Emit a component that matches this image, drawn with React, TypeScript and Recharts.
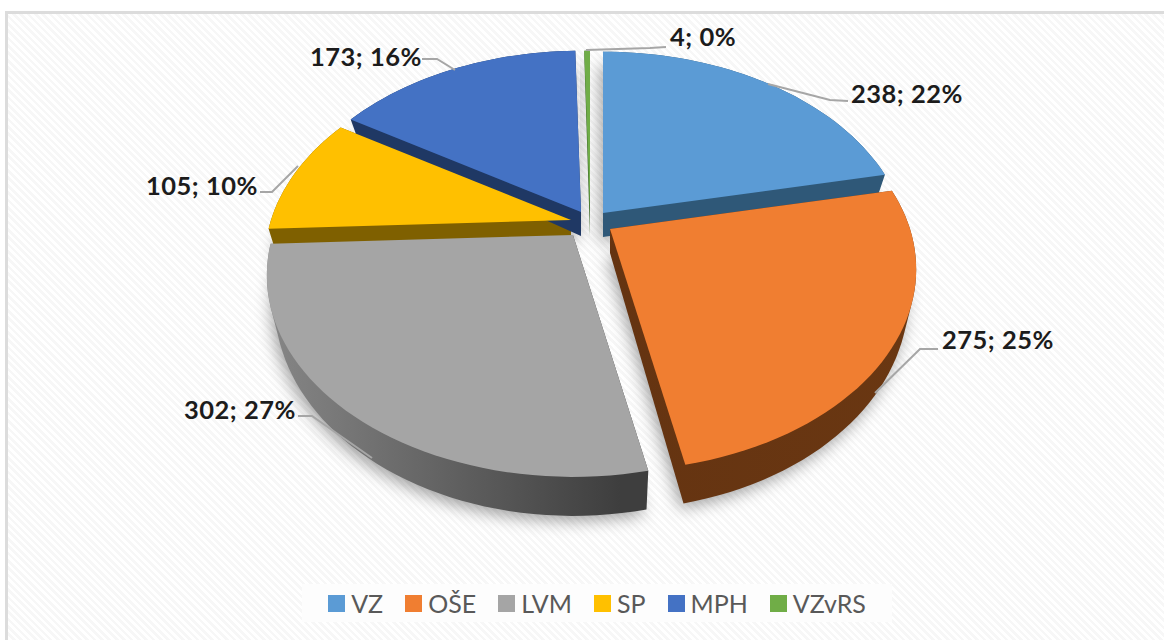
import { PieChart, Pie, Legend } from 'recharts'

const categories = ['VZ', 'OŠE', 'LVM', 'SP', 'MPH', 'VZvRS']
const counts = [238, 275, 302, 105, 173, 4]
const percentLabels = ['22%', '25%', '27%', '10%', '16%', '0%']

const topColors = ['#5b9bd5', '#f07e31', '#a5a5a5', '#ffc000', '#4472c4', '#70ad47']
const wallEdges = [
  ['#2f5878', '#2f5878'],
  ['#5f3010', '#6a3712'],
  ['#868686', '#3e3e3e'],
  ['#7f6000', '#7f6000'],
  ['#1f3864', '#1f3864'],
  ['#3f6b2a', '#3f6b2a'],
]

// where each exploded slice's tip sits relative to the pie centre
const explode = [[13, -17], [20, -1], [-17, 5], [-19, -10], [-9, -18], [0, -18]]

const CX = 590
const CY = 230
const RADIUS = 300
const SQUASH = 0.645
const PERSPECTIVE = 0.2

const tableData = categories.map((name, i) => ({ name, value: counts[i] }))

const labelLayout = [
  { x: 851, y: 103, line: '848,101 830,100 768,84' },
  { x: 942, y: 349, line: '938,349 920,349 875,393' },
  { x: 184, y: 419, line: '298,416 312,416 372,458' },
  { x: 146, y: 195, line: '260,192 272,192 298,166' },
  { x: 310, y: 66, line: '422,59 437,59 455,70' },
  { x: 670, y: 46, line: '666,47 650,48 586,50' },
]

type Pt = [number, number]

function slicePoints(props: any) {
  const i = categories.indexOf(props.name ?? props.payload?.name)
  const ox = props.cx + explode[i][0]
  const oy = props.cy + explode[i][1]
  const r = props.outerRadius
  const steps = Math.max(2, Math.ceil(Math.abs(props.endAngle - props.startAngle) / 2))
  const rim: Pt[] = []
  const low: Pt[] = []
  for (let s = 0; s <= steps; s++) {
    const a = ((props.startAngle + ((props.endAngle - props.startAngle) * s) / steps) * Math.PI) / 180
    const u = Math.cos(a)
    const v = -Math.sin(a)
    const d = 1 - PERSPECTIVE * v
    const x = ox + (r * u) / d
    const y = oy + (r * SQUASH * v) / d
    rim.push([x, y])
    low.push([ox + (x - ox) * 0.975, y + 24 + 15 * v])
  }
  return { i, apex: [ox, oy] as Pt, apexLow: [ox, oy + 24] as Pt, rim, low }
}

function poly(pts: Pt[]) {
  // keep every piece wound the same way so overlapping pieces add up
  let area = 0
  pts.forEach((p, k) => {
    const q = pts[(k + 1) % pts.length]
    area += p[0] * q[1] - q[0] * p[1]
  })
  const ordered = area < 0 ? [...pts].reverse() : pts
  return 'M' + ordered.map((p) => `${p[0].toFixed(1)},${p[1].toFixed(1)}`).join('L') + 'Z'
}

function ShadowSlice(props: any) {
  const { apexLow, low } = slicePoints(props)
  return (
    <path
      d={poly([apexLow, ...low])}
      transform="translate(-3,5)"
      fill="#000"
      fillOpacity={0.36}
      filter="url(#pieShadow)"
    />
  )
}

function WallSlice(props: any) {
  const { i, apex, apexLow, rim, low } = slicePoints(props)
  let d = poly([apexLow, ...low])
  d += poly([apex, rim[0], low[0], apexLow])
  d += poly([apex, rim[rim.length - 1], low[low.length - 1], apexLow])
  for (let k = 0; k < rim.length - 1; k++) {
    d += poly([rim[k], rim[k + 1], low[k + 1], low[k]])
  }
  return <path d={d} fill={`url(#wall${i})`} fillRule="nonzero" />
}

function TopSlice(props: any) {
  const { i, apex, rim } = slicePoints(props)
  return <path d={poly([apex, ...rim])} fill={topColors[i]} />
}

function renderLabel(props: any) {
  const i = props.index
  const spot = labelLayout[i]
  return (
    <g key={categories[i]}>
      <polyline points={spot.line} fill="none" stroke="#a6a6a6" strokeWidth={2} />
      <text
        x={spot.x}
        y={spot.y}
        textAnchor="start"
        fontSize={25.5}
        letterSpacing={0.5}
        fontWeight={700}
        fill="#1c1c1c"
        fontFamily="Lato"
      >
        {`${counts[i]}; ${percentLabels[i]}`}
      </text>
    </g>
  )
}

function LegendRow() {
  return (
    <div style={{ display: 'flex', gap: 22, alignItems: 'center', justifyContent: 'center', height: 38, background: '#fdfdfd' }}>
      {categories.map((c, i) => (
        <div key={c} style={{ display: 'flex', alignItems: 'center', gap: 6 }}>
          <span style={{ width: 17, height: 17, background: topColors[i], display: 'inline-block' }} />
          <span style={{ fontFamily: 'Lato', fontSize: 25, color: '#595959', lineHeight: '38px' }}>{c}</span>
        </div>
      ))}
    </div>
  )
}

export default function App() {
  return (
    <div
      style={{
        position: 'fixed',
        left: 0,
        top: 0,
        width: 1164,
        height: 640,
        background: '#fff',
        overflow: 'hidden',
      }}
    >
      <div
        style={{
          position: 'absolute',
          left: 5,
          top: 11,
          width: 1170,
          height: 640,
          borderLeft: '3px solid #dcdcdc',
          borderTop: '3px solid #dcdcdc',
          background: 'repeating-linear-gradient(45deg, #ffffff 0 2.6px, #f7f7f7 2.6px 5.2px)',
        }}
      />
      <div style={{ position: 'absolute', left: 0, top: 0 }}>
        <PieChart width={1164} height={640} margin={{ top: 0, right: 0, bottom: 0, left: 0 }}>
          <defs>
            <filter id="pieShadow" x="-20%" y="-20%" width="140%" height="140%">
              <feGaussianBlur stdDeviation="8" />
            </filter>
            {wallEdges.map((pair, i) => (
              <linearGradient key={i} id={`wall${i}`} gradientUnits="userSpaceOnUse" x1={270} y1={0} x2={i === 2 ? 620 : 920} y2={0}>
                <stop offset="0%" stopColor={pair[0]} />
                <stop offset="100%" stopColor={pair[1]} />
              </linearGradient>
            ))}
          </defs>
          <Pie
            data={tableData}
            dataKey="value"
            cx={CX}
            cy={CY}
            outerRadius={RADIUS}
            startAngle={90}
            endAngle={-270}
            stroke="none"
            legendType="none"
            shape={ShadowSlice}
            isAnimationActive={false}
          />
          <Pie
            data={tableData}
            dataKey="value"
            cx={CX}
            cy={CY}
            outerRadius={RADIUS}
            startAngle={90}
            endAngle={-270}
            stroke="none"
            legendType="none"
            shape={WallSlice}
            isAnimationActive={false}
          />
          <Pie
            data={tableData}
            dataKey="value"
            cx={CX}
            cy={CY}
            outerRadius={RADIUS}
            startAngle={90}
            endAngle={-270}
            stroke="none"
            shape={TopSlice}
            label={renderLabel}
            labelLine={false}
            isAnimationActive={false}
          />
          <Legend
            content={<LegendRow />}
            wrapperStyle={{ position: 'absolute', left: 302, top: 584, width: 590, bottom: 'auto' }}
          />
        </PieChart>
      </div>
    </div>
  )
}
